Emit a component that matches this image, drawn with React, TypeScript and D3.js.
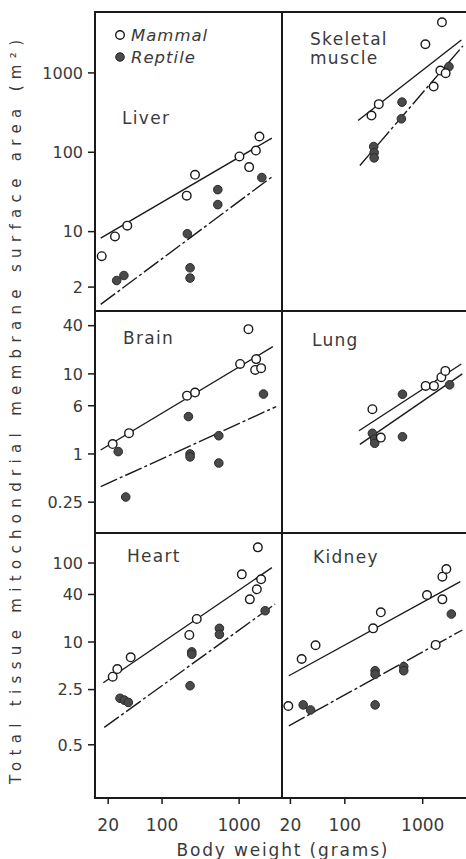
import React from 'react';
import * as d3 from 'd3';

const width = 466;
const height = 859;
const ink = '#1a1a1a';
const textInk = '#3a3a3a';
const font = '"DejaVu Sans", sans-serif';

// frame edges
const left = 95;
const mid = 282;
const right = 468;
const rowEdges = [12, 311, 533, 798];

// body weight (g), surface area (m2)
const liverMammal = [[16.5, 4.9], [24.5, 8.7], [35.4, 11.9], [209, 28.4], [268, 52], [1010, 88.5], [1350, 65], [1650, 105], [1835, 158]];
const liverReptile = [[25.8, 2.42], [32, 2.8], [213, 9.4], [231, 3.5], [231, 2.6], [529, 33.8], [529, 21.9], [1970, 48]];
const liverMammalFit = [[16, 8.3], [2660, 151]];
const liverReptileFit = [[16, 1.21], [2790, 50.6]];

const muscleMammal = [[220, 290], [273, 404], [1083, 2296], [1768, 4345], [1384, 673], [1686, 1069], [1972, 991]];
const muscleReptile = [[543, 428], [533, 264], [235, 118], [238, 99], [238, 85], [2175, 1200]];
const muscleMammalFit = [[148, 251], [3135, 2600]];
const muscleReptileFit = [[156, 68], [3290, 2188]];

const brainMammal = [[22.9, 1.33], [37.3, 1.82], [211, 5.35], [268, 5.84], [1030, 13.3], [1321, 36.2], [1663, 15.3], [1614, 11.2], [1930, 11.8]];
const brainReptile = [[27, 1.07], [33.8, 0.29], [220, 2.93], [231, 1.0], [231, 0.92], [545, 1.69], [545, 0.77], [2070, 5.6]];
const brainMammalFit = [[16, 1.12], [2740, 21.9]];
const brainReptileFit = [[16, 0.39], [3025, 3.9]];

const lungMammal = [[226, 3.62], [290, 1.6], [1092, 7.08], [1396, 7.08], [1738, 9.1], [1954, 10.9]];
const lungReptile = [[550, 5.57], [550, 1.64], [226, 1.81], [242, 1.53], [242, 1.36], [2218, 7.3]];
const lungMammalFit = [[152, 1.95], [3135, 13.3]];
const lungReptileFit = [[156, 1.32], [3228, 10]];

const heartMammal = [[22.9, 3.64], [26.3, 4.55], [39.2, 6.4], [226, 12.3], [282, 19.6], [1084, 71.9], [1377, 34.7], [1698, 46.5], [1930, 62.2], [1750, 158]];
const heartReptile = [[28.5, 1.94], [32.4, 1.84], [36.5, 1.72], [243, 7.5], [243, 7.0], [231, 2.8], [555, 14.9], [555, 12.5], [2177, 24.9]];
const heartMammalFit = [[17.3, 3.05], [2660, 87.3]];
const heartReptileFit = [[17.8, 0.83], [2935, 30.3]];

const kidneyMammal = [[18.8, 1.55], [27.9, 6.1], [42.1, 9.1], [231, 14.9], [290, 23.8], [1136, 39.4], [1790, 34.7], [1790, 67.1], [2013, 84], [1468, 9.2]];
const kidneyReptile = [[29.2, 1.6], [36.3, 1.38], [245, 4.33], [245, 3.9], [245, 1.6], [571, 4.87], [571, 4.33], [2334, 22.6]];
const kidneyMammalFit = [[19.1, 3.74], [3043, 58]];
const kidneyReptileFit = [[19.1, 0.87], [3228, 14.2]];

// axis ticks
const xTicks = [20, 100, 1000];
const yTicksRow1 = [2, 10, 100, 1000];
const yTickLabelsRow1 = ['2', '10', '100', '1000'];
const yTicksRow2 = [0.25, 1, 4, 10, 40];
const yTickLabelsRow2 = ['0.25', '1', '6', '10', '40'];
const yTicksRow3 = [0.5, 2.5, 10, 40, 100];
const yTickLabelsRow3 = ['0.5', '2.5', '10', '40', '100'];

const xScales = [
  d3.scaleLog().domain([13.5, 3600]).range([left, mid]),
  d3.scaleLog().domain([15.6, 3600]).range([mid, mid + 184])
];
const yScales = [
  d3.scaleLog().domain([1, 5850]).range([rowEdges[1], rowEdges[0]]),
  d3.scaleLog().domain([0.103, 61]).range([rowEdges[2], rowEdges[1]]),
  d3.scaleLog().domain([0.106, 240]).range([rowEdges[3], rowEdges[2]])
];
const yTicks = [
  { values: yTicksRow1, labels: yTickLabelsRow1 },
  { values: yTicksRow2, labels: yTickLabelsRow2 },
  { values: yTicksRow3, labels: yTickLabelsRow3 }
];

const panels = [
  { name: ['Liver'], row: 0, col: 0, dx: 27, dy: 112, mammal: liverMammal, reptile: liverReptile, mFit: liverMammalFit, rFit: liverReptileFit, dashed: true },
  { name: ['Skeletal', 'muscle'], row: 0, col: 1, dx: 28, dy: 33, mammal: muscleMammal, reptile: muscleReptile, mFit: muscleMammalFit, rFit: muscleReptileFit, dashed: true },
  { name: ['Brain'], row: 1, col: 0, dx: 28, dy: 33, mammal: brainMammal, reptile: brainReptile, mFit: brainMammalFit, rFit: brainReptileFit, dashed: true },
  { name: ['Lung'], row: 1, col: 1, dx: 30, dy: 35, mammal: lungMammal, reptile: lungReptile, mFit: lungMammalFit, rFit: lungReptileFit, dashed: false },
  { name: ['Heart'], row: 2, col: 0, dx: 32, dy: 29, mammal: heartMammal, reptile: heartReptile, mFit: heartMammalFit, rFit: heartReptileFit, dashed: true },
  { name: ['Kidney'], row: 2, col: 1, dx: 31, dy: 30, mammal: kidneyMammal, reptile: kidneyReptile, mFit: kidneyMammalFit, rFit: kidneyReptileFit, dashed: true }
];

const Panel = ({ p }) => {
  const x = xScales[p.col];
  const y = yScales[p.row];
  const line = d3.line().x(d => x(d[0])).y(d => y(d[1]));
  const x0 = p.col === 0 ? left : mid;
  const y0 = rowEdges[p.row];
  return (
    <g>
      <text x={x0 + p.dx} y={y0 + p.dy} fontSize={17} letterSpacing={1.3} fill={textInk}>
        {p.name.map((n, i) => (
          <tspan key={i} x={x0 + p.dx} dy={i === 0 ? 0 : 19}>{n}</tspan>
        ))}
      </text>
      <path d={line(p.mFit)} fill="none" stroke={ink} strokeWidth={1.4} />
      <path d={line(p.rFit)} fill="none" stroke={ink} strokeWidth={1.4}
        strokeDasharray={p.dashed ? '18 3 3 3' : null} />
      {p.reptile.map((d, i) => (
        <circle key={'r' + i} cx={x(d[0])} cy={y(d[1])} r={4.3} fill="#4a4a4a" stroke="#2a2a2a" strokeWidth={1} />
      ))}
      {p.mammal.map((d, i) => (
        <circle key={'m' + i} cx={x(d[0])} cy={y(d[1])} r={4.3} fill="#fff" stroke={ink} strokeWidth={1.4} />
      ))}
    </g>
  );
};

export default function App() {
  return (
    <svg width={width} height={height} style={{ position: 'absolute', left: 0, top: 0, background: '#fff' }}
      fontFamily={font}>
      <rect x={0} y={0} width={width} height={height} fill="#fff" />
      {panels.map((p, i) => <Panel key={i} p={p} />)}

      {/* frame */}
      <path d={`M${right},${rowEdges[0]}H${left}V${rowEdges[3]}H${right}`} fill="none" stroke={ink} strokeWidth={2} />
      {rowEdges.slice(1, 3).map((e, i) => (
        <line key={i} x1={left} x2={right} y1={e} y2={e} stroke={ink} strokeWidth={2} />
      ))}
      <line x1={mid} x2={mid} y1={rowEdges[0]} y2={rowEdges[3]} stroke={ink} strokeWidth={2} />

      {/* y axes */}
      {yTicks.map((t, r) => (
        <g key={r}>
          {t.values.map((v, i) => (
            <g key={i} transform={`translate(0,${yScales[r](v)})`}>
              <line x1={left - 7} x2={left} stroke={ink} strokeWidth={1.5} />
              <text x={left - 12} dy="0.36em" textAnchor="end" fontSize={16} fill={textInk}>{t.labels[i]}</text>
            </g>
          ))}
        </g>
      ))}

      {/* x axes */}
      {xScales.map((x, c) => (
        <g key={c}>
          {xTicks.map((v, i) => (
            <g key={i} transform={`translate(${x(v)},${rowEdges[3]})`}>
              <line y1={0} y2={6} stroke={ink} strokeWidth={1.5} />
              <text y={33} textAnchor="middle" fontSize={17} fill={textInk}>{v}</text>
            </g>
          ))}
        </g>
      ))}

      {/* legend */}
      <circle cx={120} cy={35} r={4.3} fill="#fff" stroke={ink} strokeWidth={1.4} />
      <text x={131} y={41} fontSize={16.5} fontStyle="italic" letterSpacing={1} fill={textInk}>Mammal</text>
      <circle cx={120} cy={57} r={4.3} fill="#4a4a4a" stroke="#2a2a2a" strokeWidth={1} />
      <text x={131} y={63} fontSize={16.5} fontStyle="italic" letterSpacing={1} fill={textInk}>Reptile</text>

      {/* axis titles */}
      <text x={282} y={856} textAnchor="middle" fontSize={17} fill={textInk}
        textLength={211} lengthAdjust="spacing">Body weight (grams)</text>
      <text transform="translate(21,412) rotate(-90)" textAnchor="middle" fontSize={15} fill={textInk}
        textLength={744} lengthAdjust="spacing">Total tissue mitochondrial membrane surface area (m²)</text>
    </svg>
  );
}
